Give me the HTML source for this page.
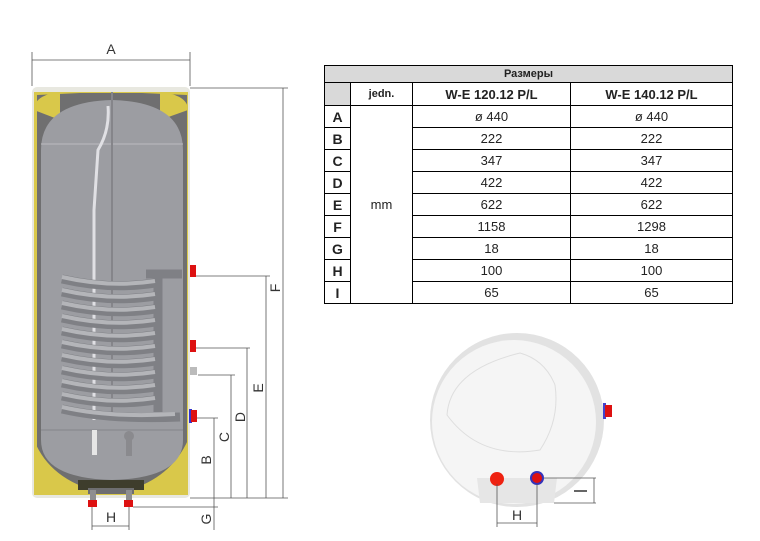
<!DOCTYPE html>
<html><head><meta charset="utf-8"><style>
body{margin:0;background:#fff;width:760px;height:541px;overflow:hidden;position:relative;font-family:"Liberation Sans",sans-serif}
table{position:absolute;left:324px;top:65px;border-collapse:collapse;font-family:"Liberation Sans","DejaVu Sans",sans-serif;font-size:13px}
td{border:1px solid #000;text-align:center;height:21px;padding:0;color:#222}
td.l{font-weight:bold;font-size:14px;width:25px}
.h td{background:#d9d9d9;font-weight:bold;height:16px;font-size:11px}
.h2 td{font-weight:bold;font-size:13px;height:22px}
</style></head><body>
<svg width="760" height="541" style="position:absolute;left:0;top:0" font-family="Liberation Sans, sans-serif">
<rect x="32" y="87" width="158" height="411" rx="5" fill="#e8e8e0"/>
<rect x="34" y="92" width="154" height="403" fill="#d9c84a"/>
<path d="M37 95 L80 93 L142 93 L187 95 L187 490 L37 490 Z" fill="#6f6f70"/>
<path d="M34 110 Q34 95 60 92 L60 120 Z" fill="#d9c84a"/>
<path d="M188 110 Q188 95 160 92 L160 120 Z" fill="#d9c84a"/>
<path d="M34 440 L34 492 L100 492 Q50 480 34 440Z" fill="#d9c84a"/>
<path d="M188 440 L188 492 L122 492 Q170 480 188 440Z" fill="#d9c84a"/>
<path d="M41 150 Q41 102 112 100 Q183 102 183 150 L183 440 Q183 478 112 480 Q41 478 41 440 Z" fill="#9c9da2"/>
<line x1="41" y1="144" x2="183" y2="144" stroke="#bcbcc0" stroke-width="1"/>
<line x1="41" y1="430" x2="183" y2="430" stroke="#85858a" stroke-width="1"/>
<path d="M108 106 Q110 130 98 150 L94 210 L94 420" stroke="#e0e0e4" stroke-width="3" fill="none"/>
<line x1="112" y1="92" x2="112" y2="420" stroke="#85858a" stroke-width="2"/>
<g stroke="#7f8085" stroke-width="9" fill="none">
<path d="M62 279 Q110 290 155 283"/><path d="M62 292 Q110 303 155 296"/><path d="M62 305 Q110 316 155 309"/>
<path d="M62 318 Q110 329 155 322"/><path d="M62 331 Q110 342 155 335"/><path d="M62 344 Q110 355 155 348"/>
<path d="M62 357 Q110 368 155 361"/><path d="M62 370 Q110 381 155 374"/><path d="M62 383 Q110 394 155 387"/>
<path d="M62 396 Q110 407 155 400"/><path d="M62 409 Q110 420 180 417"/>
<path d="M158 278 L158 412"/><path d="M146 274 L182 274"/>
</g>
<g stroke="#b4b5b9" stroke-width="4" fill="none">
<path d="M62 277 Q110 288 155 281"/><path d="M62 290 Q110 301 155 294"/><path d="M62 303 Q110 314 155 307"/>
<path d="M62 316 Q110 327 155 320"/><path d="M62 329 Q110 340 155 333"/><path d="M62 342 Q110 353 155 346"/>
<path d="M62 355 Q110 366 155 359"/><path d="M62 368 Q110 379 155 372"/><path d="M62 381 Q110 392 155 385"/>
<path d="M62 394 Q110 405 155 398"/><path d="M62 407 Q110 418 175 414"/>
</g>
<rect x="92" y="430" width="5" height="25" fill="#e6e6e6"/>
<circle cx="129" cy="436" r="5" fill="#8a8a8e"/><rect x="126" y="440" width="6" height="16" fill="#8a8a8e"/>
<rect x="78" y="480" width="66" height="10" fill="#3e3d2c"/>
<rect x="88" y="488" width="46" height="6" fill="#6e6e70"/>
<rect x="90" y="490" width="6" height="16" fill="#8e8e90"/><rect x="126" y="490" width="6" height="16" fill="#8e8e90"/>
<rect x="88" y="500" width="9" height="7" fill="#d11"/><rect x="124" y="500" width="9" height="7" fill="#d11"/>
<rect x="190" y="265" width="6" height="12" fill="#d11"/><rect x="190" y="340" width="6" height="12" fill="#d11"/>
<rect x="190" y="367" width="7" height="8" fill="#bbb"/><rect x="189" y="409" width="3" height="14" fill="#33c"/><rect x="191" y="410" width="6" height="12" fill="#d11"/>
<g stroke="#555" stroke-width="0.8" fill="none">
<line x1="32" y1="52" x2="32" y2="86"/><line x1="190" y1="52" x2="190" y2="86"/><line x1="32" y1="60" x2="190" y2="60"/>
<line x1="190" y1="88" x2="288" y2="88"/><line x1="283" y1="88" x2="283" y2="498"/>
<line x1="196" y1="276" x2="270" y2="276"/><line x1="266" y1="276" x2="266" y2="498"/>
<line x1="196" y1="348" x2="250" y2="348"/><line x1="247" y1="348" x2="247" y2="498"/>
<line x1="198" y1="375" x2="235" y2="375"/><line x1="231" y1="375" x2="231" y2="498"/>
<line x1="197" y1="418" x2="218" y2="418"/><line x1="214" y1="418" x2="214" y2="530"/>
<line x1="190" y1="498" x2="288" y2="498"/><line x1="133" y1="507" x2="218" y2="507"/>
<line x1="92" y1="507" x2="92" y2="530"/><line x1="129" y1="507" x2="129" y2="530"/><line x1="92" y1="526" x2="129" y2="526"/>
</g>
<g font-size="14" fill="#333" text-anchor="middle">
<text x="111" y="54">A</text><text x="111" y="522">H</text>
<text transform="translate(280,288) rotate(-90)">F</text>
<text transform="translate(263,388) rotate(-90)">E</text>
<text transform="translate(245,417) rotate(-90)">D</text>
<text transform="translate(229,437) rotate(-90)">C</text>
<text transform="translate(211,460) rotate(-90)">B</text>
<text transform="translate(211,519) rotate(-90)">G</text>
</g>
<circle cx="517" cy="420" r="87" fill="#e2e2e2"/>
<circle cx="514" cy="422" r="82" fill="#f5f5f5"/>
<path d="M477 478 L557 478 L554 503 L480 503 Z" fill="#e6e6e6"/>
<path d="M447 415 Q450 370 520 353 Q545 360 555 385 Q560 420 540 450 Q480 460 447 415Z" fill="none" stroke="#dedede"/>
<rect x="603" y="403" width="3" height="16" fill="#44c"/><rect x="605" y="405" width="7" height="12" fill="#d11"/>
<circle cx="497" cy="479" r="7" fill="#e21"/>
<circle cx="537" cy="478" r="7" fill="#33b"/><circle cx="537" cy="478" r="5" fill="#d11"/>
<g stroke="#555" stroke-width="0.8">
<line x1="497" y1="484" x2="497" y2="527"/><line x1="537" y1="484" x2="537" y2="527"/><line x1="497" y1="523" x2="537" y2="523"/>
<line x1="544" y1="478" x2="596" y2="478"/><line x1="554" y1="503" x2="596" y2="503"/><line x1="594" y1="478" x2="594" y2="503"/>
</g>
<text x="517" y="520" font-size="14" fill="#333" text-anchor="middle">H</text>
<line x1="574" y1="491" x2="587" y2="491" stroke="#333" stroke-width="1.5"/>
</svg>
<table>
<tr class="h"><td colspan="4">Размеры</td></tr>
<tr class="h2"><td style="background:#d9d9d9;width:25px"></td><td style="width:61px;font-size:11px">jedn.</td><td style="width:157px">W-E 120.12 P/L</td><td style="width:161px">W-E 140.12 P/L</td></tr>
<tr><td class="l">A</td><td rowspan="9">mm</td><td>ø 440</td><td>ø 440</td></tr>
<tr><td class="l">B</td><td>222</td><td>222</td></tr>
<tr><td class="l">C</td><td>347</td><td>347</td></tr>
<tr><td class="l">D</td><td>422</td><td>422</td></tr>
<tr><td class="l">E</td><td>622</td><td>622</td></tr>
<tr><td class="l">F</td><td>1158</td><td>1298</td></tr>
<tr><td class="l">G</td><td>18</td><td>18</td></tr>
<tr><td class="l">H</td><td>100</td><td>100</td></tr>
<tr><td class="l">I</td><td>65</td><td>65</td></tr>
</table>
</body></html>
